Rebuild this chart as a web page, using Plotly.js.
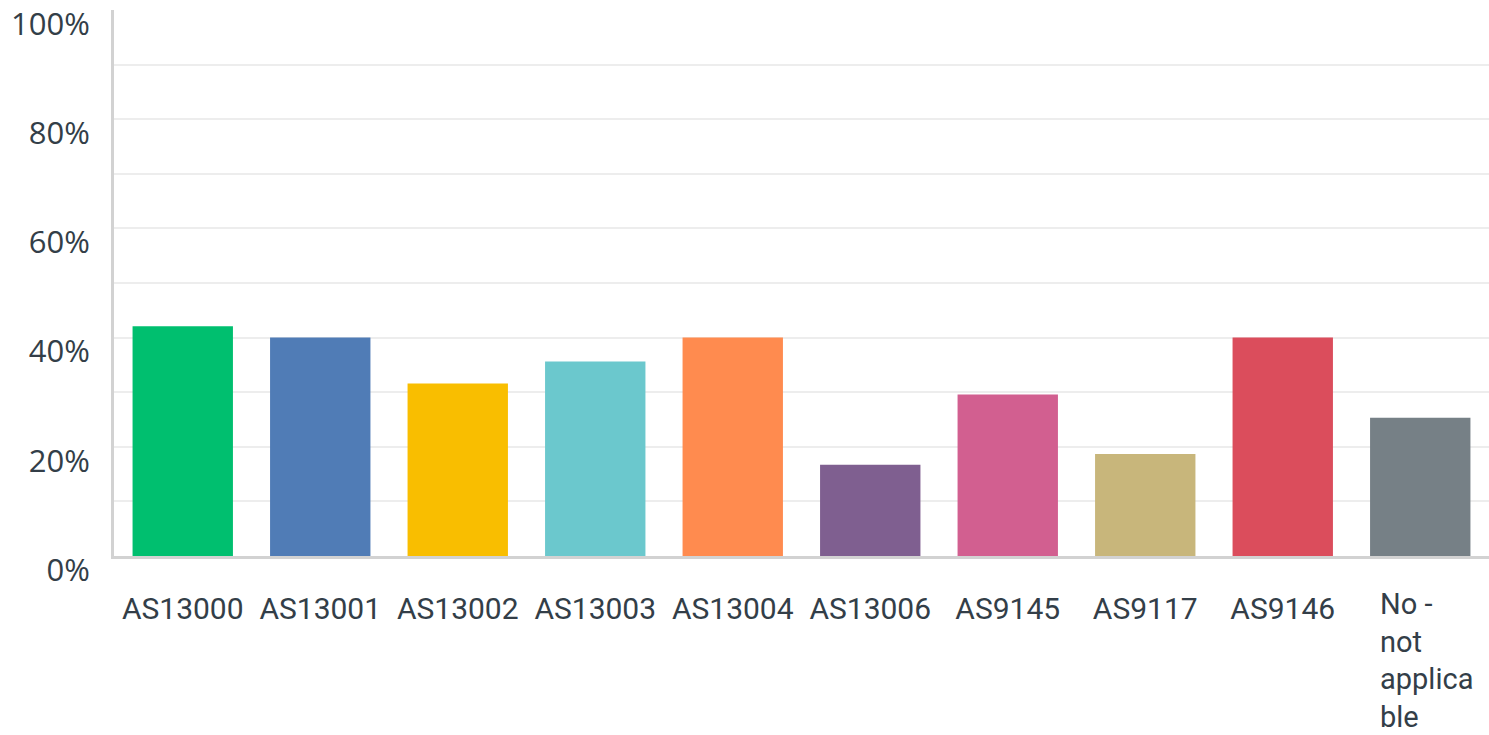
<!DOCTYPE html>
<html>
<head>
<meta charset="utf-8">
<script src="https://cdn.plot.ly/plotly-3.0.1.min.js"></script>
<style>
  html, body { margin: 0; padding: 0; background: #fff; }
  #chart { width: 1489px; height: 735px; }
</style>
</head>
<body>
<div id="chart"></div>
<script>
// Answer options and the share of respondents choosing each (percent)
const categories = ['AS13000', 'AS13001', 'AS13002', 'AS13003', 'AS13004',
                    'AS13006', 'AS9145', 'AS9117', 'AS9146', 'No - not applicable'];
const tickLabels = ['AS13000', 'AS13001', 'AS13002', 'AS13003', 'AS13004',
                    'AS13006', 'AS9145', 'AS9117', 'AS9146', ''];
const lastLabel = 'No -<br>not<br>applica<br>ble';
const percents = [42.1, 40.0, 31.6, 35.6, 40.0, 16.7, 29.6, 18.7, 40.0, 25.3];
const barColors = ['#00bf6f', '#507cb6', '#f9be00', '#6bc8cd', '#ff8b4f',
                   '#7f5f90', '#d25f90', '#c8b67b', '#db4d5c', '#768086'];
const yTicks = [0, 20, 40, 60, 80, 100];
const yTickLabels = ['0%', '20%', '40%', '60%', '80%', '100%'];

const textColor = '#333e48';

const trace = {
  type: 'bar',
  x: categories,
  y: percents,
  marker: { color: barColors, line: { width: 0 } },
  hoverinfo: 'x+y'
};

const layout = {
  width: 1489,
  height: 735,
  margin: { l: 114, r: 0, t: 10, b: 179 },
  paper_bgcolor: '#ffffff',
  plot_bgcolor: '#ffffff',
  showlegend: false,
  bargap: 0.27,
  xaxis: {
    type: 'category',
    tickvals: categories,
    ticktext: tickLabels,
    showline: true,
    linecolor: '#d2d2d2',
    linewidth: 3,
    ticks: '',
    ticklabelstandoff: 24,
    showgrid: false,
    zeroline: false,
    tickfont: { family: 'Roboto, sans-serif', size: 30, color: textColor },
    fixedrange: true
  },
  yaxis: {
    range: [0, 100],
    tickmode: 'array',
    tickvals: yTicks,
    ticktext: yTickLabels,
    showline: true,
    linecolor: '#d2d2d2',
    linewidth: 3,
    ticks: '',
    ticklabelstandoff: 15,
    ticklabelshift: 14,
    showgrid: true,
    gridcolor: '#ededed',
    gridwidth: 2,
    minor: { dtick: 10, showgrid: true, gridcolor: '#ededed', gridwidth: 2 },
    zeroline: false,
    tickfont: { family: '"Open Sans", sans-serif', size: 31, color: textColor },
    fixedrange: true
  },
  annotations: [{
    x: categories[categories.length - 1],
    y: 0,
    xref: 'x',
    yref: 'y',
    xanchor: 'left',
    yanchor: 'top',
    xshift: -42,
    yshift: -29,
    align: 'left',
    showarrow: false,
    text: lastLabel,
    font: { family: 'Roboto, sans-serif', size: 29, color: textColor }
  }]
};

Plotly.newPlot('chart', [trace], layout, { displayModeBar: false, staticPlot: true });
</script>
</body>
</html>
